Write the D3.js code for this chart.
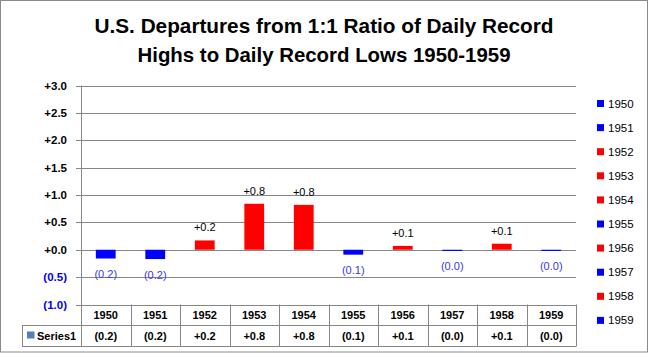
<!DOCTYPE html>
<html><head><meta charset="utf-8">
<script src="https://cdn.jsdelivr.net/npm/d3@7"></script>
<style>html,body{margin:0;padding:0;background:#fff}svg{display:block}</style>
</head><body>
<svg id="c" width="648" height="353"></svg>
<script>
const years = ["1950","1951","1952","1953","1954","1955","1956","1957","1958","1959"];
const values = [-0.16,-0.17,0.17,0.84,0.82,-0.09,0.07,-0.02,0.11,-0.02];
const yTicks = [-1,-0.5,0,0.5,1,1.5,2,2.5,3];
const titleLines = ["U.S. Departures from 1:1 Ratio of Daily Record","Highs to Daily Record Lows 1950-1959"];
const seriesName = "Series1";

const fmt = v => v < 0 ? "(" + Math.abs(v).toFixed(1) + ")" : "+" + v.toFixed(1);
const colorOf = v => v < 0 ? "#0000FF" : "#FF0000";

const svg = d3.select("#c");
svg.append("rect").attr("x",0.5).attr("y",0.5).attr("width",647).attr("height",351.5)
  .attr("fill","#fff").attr("stroke","#8a8a8a");

// title
svg.selectAll("text.title").data(titleLines).enter().append("text")
  .attr("x",324).attr("y",(d,i)=>33.3+i*29)
  .attr("text-anchor","middle")
  .attr("font-family","Liberation Sans, Arial, sans-serif").attr("font-weight","bold")
  .attr("font-size",20.5)
  .attr("textLength",(d,i)=> i===0?459:373).attr("lengthAdjust","spacingAndGlyphs")
  .text(d=>d);

const L=81, R=576;
const x = d3.scaleBand().domain(years).range([L,R]).paddingInner(0.6).paddingOuter(0.3);
const xc = d3.scaleBand().domain(years).range([L,R]);
const y = d3.scaleLinear().domain([-1,3]).range([304.5,85.5]);

// gridlines
svg.append("g").selectAll("line").data(yTicks).enter().append("line")
  .attr("x1",L-5).attr("x2",R).attr("y1",d=>Math.round(y(d))+0.5).attr("y2",d=>Math.round(y(d))+0.5)
  .attr("stroke","#868686").attr("stroke-width",1);

// y axis line
svg.append("line").attr("x1",L+0.5).attr("x2",L+0.5).attr("y1",y(3)).attr("y2",346)
  .attr("stroke","#868686");

// y tick labels
svg.append("g").selectAll("text").data(yTicks).enter().append("text")
  .attr("x",67).attr("y",d=>y(d)+4)
  .attr("text-anchor","end")
  .attr("font-family","Liberation Sans, Arial, sans-serif").attr("font-weight","bold").attr("font-size",11.5)
  .attr("fill",d=>d<0?"#0000FF":"#000")
  .text(d=>fmt(d));

// bars
const y0 = y(0);
svg.append("g").selectAll("rect").data(values).enter().append("rect")
  .attr("x",(d,i)=>x(years[i])).attr("width",x.bandwidth())
  .attr("y",d=>Math.min(y(d),y0)).attr("height",d=>Math.max(1.2,Math.abs(y(d)-y0)))
  .attr("fill",d=>colorOf(d));

// data labels
svg.append("g").selectAll("text").data(values).enter().append("text")
  .attr("x",(d,i)=>x(years[i])+x.bandwidth()/2)
  .attr("y",d=> d<0 ? Math.max(y(d),y0)+19.5 : y(d)-9)
  .attr("text-anchor","middle")
  .attr("font-family","Liberation Sans, Arial, sans-serif").attr("font-size",11)
  .attr("fill",d=>d<0?"#3636EE":"#000")
  .text(d=>fmt(d));

// data table
const tTop=304.5, tMid=325.5, tBot=346.5;
const tg = svg.append("g").attr("stroke","#868686").attr("stroke-width",1);
tg.append("line").attr("x1",22).attr("x2",R).attr("y1",tMid).attr("y2",tMid);
tg.append("line").attr("x1",22).attr("x2",R).attr("y1",tBot).attr("y2",tBot);
tg.append("line").attr("x1",22.5).attr("x2",22.5).attr("y1",tMid).attr("y2",tBot);
tg.selectAll("line.v").data(years.concat(["end"])).enter().append("line")
  .attr("x1",(d,i)=>Math.round(i<years.length?xc(d):R)+0.5)
  .attr("x2",(d,i)=>Math.round(i<years.length?xc(d):R)+0.5)
  .attr("y1",tTop).attr("y2",tBot);

svg.append("g").selectAll("text").data(years).enter().append("text")
  .attr("x",d=>xc(d)+xc.bandwidth()/2).attr("y",319)
  .attr("text-anchor","middle")
  .attr("font-family","Liberation Sans, Arial, sans-serif").attr("font-weight","bold").attr("font-size",11)
  .text(d=>d);
svg.append("g").selectAll("text").data(values).enter().append("text")
  .attr("x",(d,i)=>xc(years[i])+xc.bandwidth()/2).attr("y",339.5)
  .attr("text-anchor","middle")
  .attr("font-family","Liberation Sans, Arial, sans-serif").attr("font-weight","bold").attr("font-size",11)
  .text(d=>fmt(d));
svg.append("rect").attr("x",27).attr("y",331.5).attr("width",7.5).attr("height",7).attr("fill","#4F81BD");
svg.append("text").attr("x",37).attr("y",339.5)
  .attr("font-family","Liberation Sans, Arial, sans-serif").attr("font-weight","bold").attr("font-size",11)
  .text(seriesName);

// legend
const lg = svg.append("g").selectAll("g").data(years).enter().append("g")
  .attr("transform",(d,i)=>`translate(597,${103.5+i*24.1})`);
lg.append("rect").attr("x",0).attr("y",-3.5).attr("width",7).attr("height",7)
  .attr("fill",(d,i)=>colorOf(values[i]));
lg.append("text").attr("x",11).attr("y",4)
  .attr("font-family","Liberation Sans, Arial, sans-serif").attr("font-size",11.5)
  .text(d=>d);
</script>
</body></html>
